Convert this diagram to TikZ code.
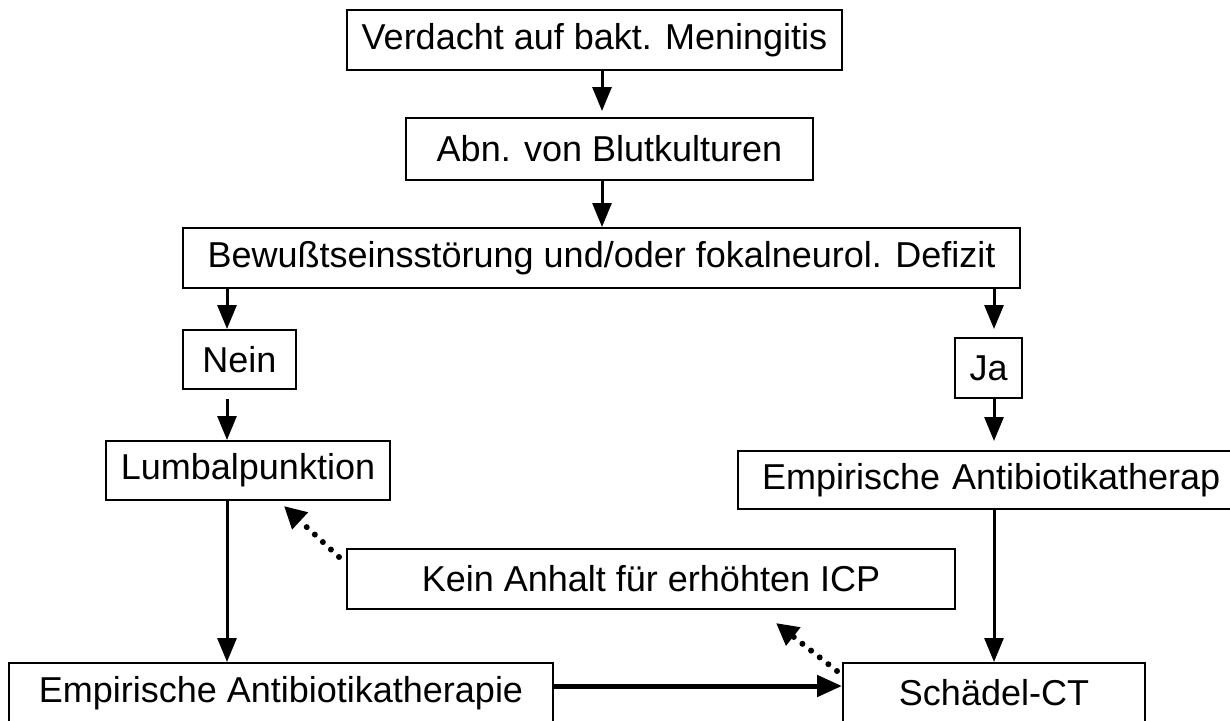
\documentclass[tikz,border=0pt]{standalone}
\usepackage{fontspec}
\setmainfont{Liberation Sans}
\usetikzlibrary{arrows.meta}
\begin{document}
\begin{tikzpicture}[x=1pt,y=-1pt,
  box/.style={draw=black,line width=2pt,inner sep=0pt,align=center,
    font=\fontsize{36pt}{40pt}\selectfont},
  arr/.style={line width=3pt,-{Triangle[length=24pt,width=19pt]}},
  harr/.style={line width=5pt,-{Triangle[length=25pt,width=21pt]}},
  dotarr/.style={line width=6pt,line cap=round,dash pattern=on 0pt off 11pt,
    -{Triangle[length=22pt,width=22pt]}}]
\clip (0,0) rectangle (1230,720);
\fill[white] (0,0) rectangle (1230,720);

\node[box,minimum width=495pt,minimum height=60pt] (b1) at (594.5,40) {Verdacht auf bakt. Meningitis};
\node[box,minimum width=407pt,minimum height=62pt] (b2) at (609.5,149) {Abn. von Blutkulturen};
\node[box,minimum width=837pt,minimum height=60pt] (b3) at (601.5,258) {Bewußtseinsstörung und/oder fokalneurol. Defizit};
\node[box,minimum width=113pt,minimum height=59pt] (nein) at (239.5,359.5) {Nein};
\node[box,minimum width=67pt,minimum height=60pt] (ja) at (988.5,368) {Ja};
\node[box,minimum width=284pt,minimum height=59pt] (lumbal) at (248,470.5) {Lumbalpunktion};
\node[box,anchor=west,minimum height=58pt,inner xsep=24pt,text width=475pt,align=left] (empr) at (737,480) {Empirische Antibiotikatherap};
\node[box,minimum width=608pt,minimum height=60pt] (kein) at (651,579) {Kein Anhalt für erhöhten ICP};
\node[box,minimum width=544pt,minimum height=60pt] (empl) at (281,693) {Empirische Antibiotikatherapie};
\node[box,minimum width=302pt,minimum height=60pt] (ct) at (994,693) {Schädel-CT};

\coordinate (cm) at (602,0);
\coordinate (cl) at (227,0);
\coordinate (cr) at (994,0);

\draw[arr,shorten >=6pt] (b1.south -| cm) -- (b2.north -| cm);
\draw[arr] (b2.south -| cm) -- (b3.north -| cm);
\draw[arr] (b3.south -| cl) -- (nein.north -| cl);
\draw[arr,shorten <=9pt] (nein.south -| cl) -- (lumbal.north -| cl);
\draw[arr,shorten >=8pt] (b3.south -| cr) -- (ja.north -| cr);
\draw[arr,shorten >=9pt] (ja.south -| cr) -- (empr.north -| cr);
\draw[arr] (lumbal.south -| cl) -- (empl.north -| cl);
\draw[arr] (empr.south -| cr) -- (ct.north -| cr);
\draw[harr] ([yshift=7pt]empl.east) -- ([yshift=7pt]ct.west);

\draw[dotarr] ([shift={(-7pt,-9pt)}]kein.north west) -- ([shift={(-107pt,-5pt)}]lumbal.south east);
\draw[dotarr] ([shift={(-5pt,-9pt)}]ct.north west) -- ([shift={(125pt,-13pt)}]kein.south);
\end{tikzpicture}
\end{document}
